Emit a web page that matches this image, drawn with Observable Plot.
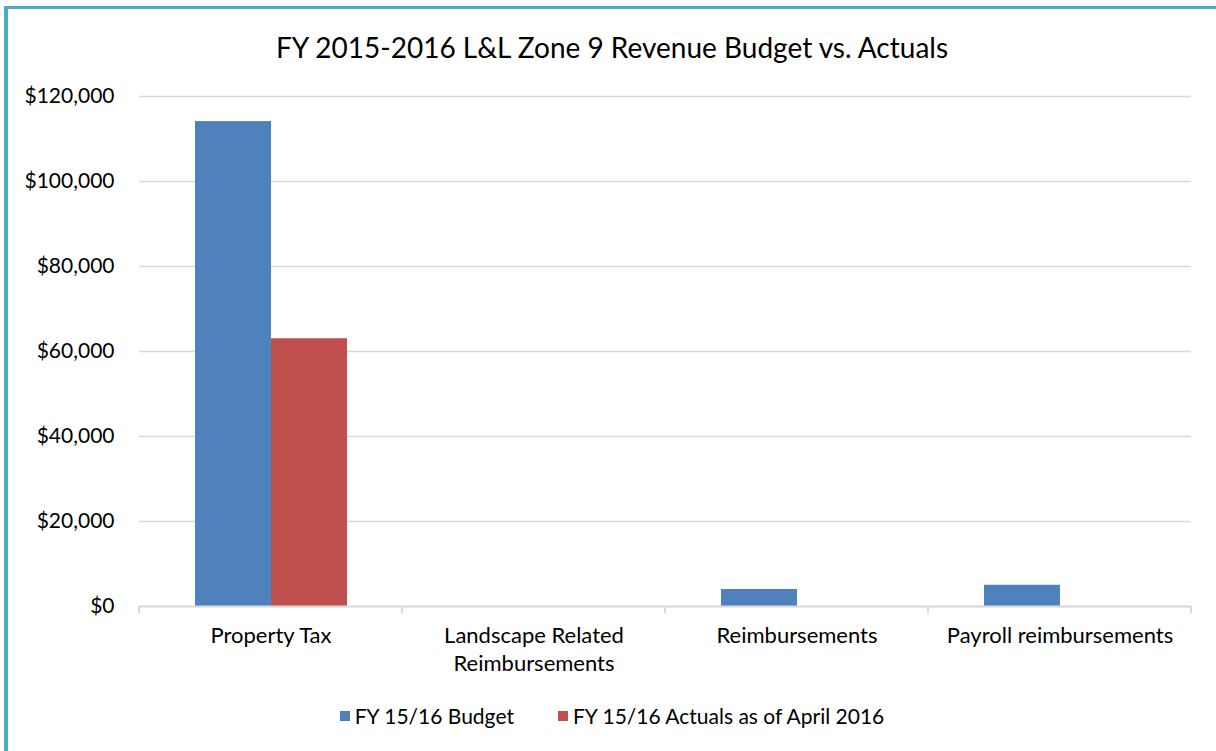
<!DOCTYPE html>
<html>
<head>
<meta charset="utf-8">
<script src="https://cdn.jsdelivr.net/npm/d3@7"></script>
<script src="https://cdn.jsdelivr.net/npm/@observablehq/plot@0.6"></script>
<style>
  html, body { margin: 0; padding: 0; background: #fff; }
  body { width: 1216px; height: 751px; position: relative; overflow: hidden; font-family: Lato, "Open Sans", sans-serif; color: #000; }
  #frame { position: absolute; left: 4px; top: 6px; right: 0; bottom: 0; border-left: 4px solid #4bacc6; border-top: 3px solid #4bacc6; }
  #title { position: absolute; left: 0; width: 1224px; top: 29px; text-align: center; font-size: 28px; line-height: 36px; }
  #chart { position: absolute; left: 0; top: 0; }
  #legend { position: absolute; left: 0; width: 1224px; top: 703px; display: flex; justify-content: center; gap: 44px; font-size: 21px; line-height: 26px; }
  .item { display: flex; align-items: center; }
  .sw { width: 10px; height: 10px; margin-right: 5px; }
</style>
</head>
<body>
<div id="frame"></div>
<div id="chart"></div>
<div id="title">FY 2015-2016 L&amp;L Zone 9 Revenue Budget vs. Actuals</div>
<div id="legend"></div>
<script>
const categories = ["Property Tax", "Landscape Related\nReimbursements", "Reimbursements", "Payroll reimbursements"];
const seriesNames = ["FY 15/16 Budget", "FY 15/16 Actuals as of April 2016"];
const budget = [114100, 0, 4000, 5000];
const actuals = [63000, 0, 0, 0];
const yTicks = [0, 20000, 40000, 60000, 80000, 100000, 120000];
const colors = ["#4f81bd", "#c0504d"];

const rows = [];
categories.forEach((c, i) => {
  rows.push({category: c, series: seriesNames[0], value: budget[i]});
  rows.push({category: c, series: seriesNames[1], value: actuals[i]});
});

const fmt = d => "$" + d3.format(",")(d);

const plot = Plot.plot({
  width: 1216,
  height: 700,
  marginLeft: 137,
  marginRight: 24,
  marginTop: 96,
  marginBottom: 94,
  style: {fontFamily: "Lato, 'Open Sans', sans-serif", fontSize: "21px", color: "#000", background: "transparent"},
  fx: {domain: categories, padding: 0, label: null},
  x: {domain: seriesNames, paddingInner: 0, paddingOuter: 0.72, axis: null},
  y: {domain: [0, 120000], label: null},
  color: {domain: seriesNames, range: colors},
  marks: [
    Plot.gridY(yTicks, {stroke: "#d9d9d9", strokeOpacity: 1, strokeWidth: 1.3}),
    Plot.barY(rows, {fx: "category", x: "series", y: "value", fill: "series"}),
    Plot.ruleY([0], {stroke: "#d9d9d9", strokeWidth: 2}),
    Plot.axisY(yTicks, {tickSize: 0, tickPadding: 25, tickFormat: fmt, label: null, fontSize: 21}),
    Plot.axisFx({tickSize: 0, tickPadding: 17, label: null, fontSize: 22, lineHeight: 1.25, anchor: "bottom"})
  ]
});
document.getElementById("chart").appendChild(plot);

// category boundary ticks (Excel style), positioned from the fx and y scales
const fx = plot.scale("fx");
const ys = plot.scale("y");
const y0 = ys.apply(0);
const edges = categories.map(c => fx.apply(c));
edges.push(fx.apply(categories[categories.length - 1]) + fx.bandwidth);
d3.select(plot).append("g")
  .selectAll("line").data(edges).join("line")
  .attr("x1", d => d).attr("x2", d => d)
  .attr("y1", y0).attr("y2", y0 + 7)
  .attr("stroke", "#d9d9d9").attr("stroke-width", 2);

const legend = d3.select("#legend");
seriesNames.forEach((s, i) => {
  const it = legend.append("div").attr("class", "item");
  it.append("div").attr("class", "sw").style("background", colors[i]);
  it.append("span").text(s);
});
</script>
</body>
</html>
